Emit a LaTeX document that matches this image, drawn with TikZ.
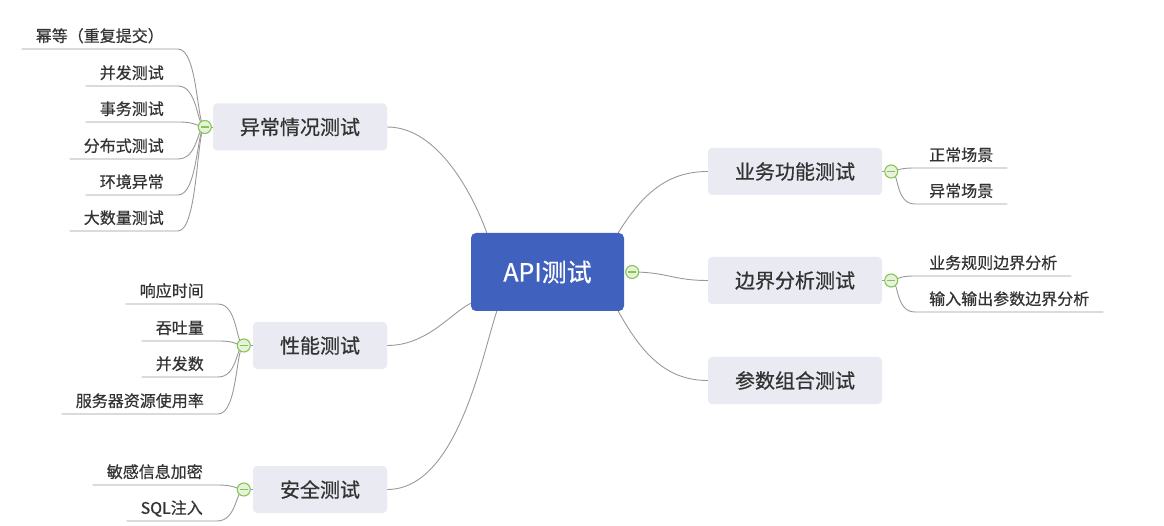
\documentclass[tikz,border=0pt]{standalone}
\usepackage{fontspec}
\setmainfont{Noto Sans CJK SC}[FakeBold=0.6]
\usetikzlibrary{positioning,backgrounds}
\definecolor{rootblue}{HTML}{4161BE}
\definecolor{topicgray}{HTML}{E9EAF2}
\definecolor{ink}{HTML}{333333}
\definecolor{wire}{HTML}{999999}
\definecolor{knobgreen}{HTML}{86C45A}
\definecolor{knobfill}{HTML}{E6F3DA}
\newcommand{\leaffont}{\fontsize{16}{19}\selectfont}
\newcommand{\topicfont}{\fontsize{20}{24}\selectfont}
\newcommand{\rootfont}{\fontsize{25}{30}\selectfont}
\tikzset{
  root/.style  = {rectangle, rounded corners=5pt, fill=rootblue, text=white, font=\rootfont,
                  minimum width=153pt, minimum height=78pt},
  topic/.style = {rectangle, rounded corners=4pt, fill=topicgray, text=ink, font=\topicfont,
                  minimum width=#1, minimum height=47pt},
  topic/.default = 174pt,
  leaf/.style  = {inner xsep=14pt, inner ysep=5pt, text height=13pt, text depth=2pt,
                  font=\leaffont, text=ink},
  link/.style  = {draw=wire, line width=0.9pt},
  knob/.style  = {circle, draw=knobgreen, fill=knobfill, line width=1.1pt, minimum size=13pt, inner sep=0pt,
                  path picture={\draw[knobgreen, line width=1.1pt]
                    ([xshift=-4pt]path picture bounding box.center) -- ([xshift=4pt]path picture bounding box.center);}},
}

\begin{document}
\begin{tikzpicture}[x=1pt, y=-1pt]
  \useasboundingbox (0,0) rectangle (1164,526);

  % centre and main topics
  \node[root] (api) at (547.5,272) {API测试};
  \node[topic] (abn) at (300,127) {异常情况测试};
  \node[topic=134pt] (perf) at (320,345.5) {性能测试};
  \node[topic=134pt] (sec) at (320,489.5) {安全测试};
  \node[topic] (biz) at (795,171.5) {业务功能测试};
  \node[topic] (bnd) at (795,280.5) {边界分析测试};
  \node[topic] (combo) at (795,380.5) {参数组合测试};

  % collapse knobs
  \node[knob] (kapi) at ([xshift=8pt]api.east) {};
  \node[knob] (kabn) at ([xshift=-8pt]abn.west) {};
  \node[knob] (kperf) at ([xshift=-9pt]perf.west) {};
  \node[knob] (ksec) at ([xshift=-9pt]sec.west) {};
  \node[knob] (kbiz) at ([xshift=9pt]biz.east) {};
  \node[knob] (kbnd) at ([xshift=9pt]bnd.east) {};

  % leaves, left side
  \node[leaf, anchor=south east] (abn1) at (178,49) {幂等（重复提交）};
  \node[leaf, anchor=south east] (abn2) at (178,86) {并发测试};
  \node[leaf, anchor=south east] (abn3) at (178,122) {事务测试};
  \node[leaf, anchor=south east] (abn4) at (178,159) {分布式测试};
  \node[leaf, anchor=south east] (abn5) at (178,195) {环境异常};
  \node[leaf, anchor=south east] (abn6) at (178,231) {大数量测试};

  \node[leaf, anchor=south east] (perf1) at (218,304) {响应时间};
  \node[leaf, anchor=south east] (perf2) at (218,341) {吞吐量};
  \node[leaf, anchor=south east] (perf3) at (218,377) {并发数};
  \node[leaf, anchor=south east] (perf4) at (218,414) {服务器资源使用率};

  \node[leaf, anchor=south east] (sec1) at (217,485) {敏感信息加密};
  \node[leaf, anchor=south east] (sec2) at (217,521) {SQL注入};

  % leaves, right side
  \node[leaf, anchor=south west] (biz1) at (915,168) {正常场景};
  \node[leaf, anchor=south west] (biz2) at (915,204) {异常场景};
  \node[leaf, anchor=south west] (bnd1) at (915,276) {业务规则边界分析};
  \node[leaf, anchor=south west] (bnd2) at (915,312) {输入输出参数边界分析};

  \begin{scope}[on background layer]
    \draw[link] (abn.east) .. controls +(53,0) and +(-12,-33) .. ([xshift=16pt]api.north west);
    \draw[link] (perf.east) .. controls +(40,0) and +(-20,10) .. ([yshift=8pt]api.south west);
    \draw[link] (sec.east) .. controls +(70,0) and +(-15,45) .. ([xshift=26pt]api.south west);
    \draw[link] ([xshift=-6pt]api.north east) .. controls +(25,-40) and +(-40,0) .. (biz.west);
    \draw[link] (kapi.center) .. controls +(35,0) and +(-35,0) .. (bnd.west);
    \draw[link] ([xshift=-6pt]api.south east) .. controls +(25,45) and +(-40,0) .. (combo.west);

    \draw[link] (kabn.center) -- (abn.west);
    \draw[link] (kperf.center) -- (perf.west);
    \draw[link] (ksec.center) -- (sec.west);
    \draw[link] (kbiz.center) -- (biz.east);
    \draw[link] (kbnd.center) -- (bnd.east);

    \foreach \l in {abn1,abn2,abn3,abn4,abn5,abn6}
      \draw[link] (kabn.center) .. controls +(-8,0) and +(20,0) .. (\l.south east) -- (\l.south west);
    \foreach \l in {perf1,perf2,perf3,perf4}
      \draw[link] (kperf.center) .. controls +(-8,0) and +(20,0) .. (\l.south east) -- (\l.south west);
    \foreach \l in {sec1,sec2}
      \draw[link] (ksec.center) .. controls +(-8,0) and +(20,0) .. (\l.south east) -- (\l.south west);
    \foreach \l in {biz1,biz2}
      \draw[link] (kbiz.center) .. controls +(8,0) and +(-20,0) .. (\l.south west) -- (\l.south east);
    \foreach \l in {bnd1,bnd2}
      \draw[link] (kbnd.center) .. controls +(8,0) and +(-20,0) .. (\l.south west) -- (\l.south east);
  \end{scope}
\end{tikzpicture}
\end{document}
